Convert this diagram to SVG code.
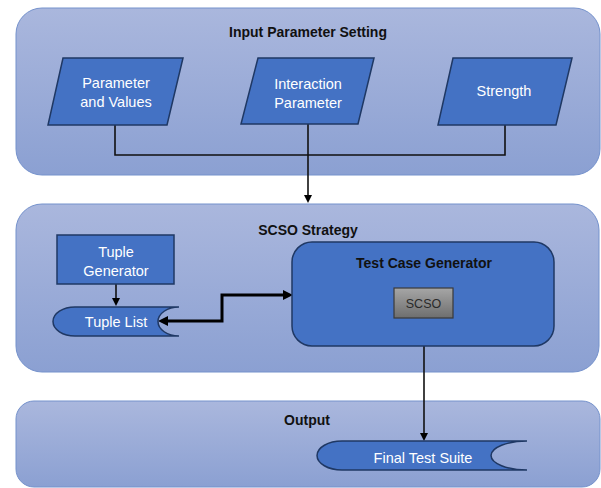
<svg xmlns="http://www.w3.org/2000/svg" width="601" height="488" viewBox="0 0 601 488">
<defs>
<linearGradient id="pg" x1="0" y1="0" x2="0" y2="1">
<stop offset="0" stop-color="#AAB7DD"/>
<stop offset="1" stop-color="#8BA0D2"/>
</linearGradient>
<linearGradient id="gg" x1="0" y1="0" x2="0" y2="1">
<stop offset="0" stop-color="#A6A6A6"/>
<stop offset="1" stop-color="#6E6E6E"/>
</linearGradient>
<marker id="ah" viewBox="0 0 8 8" refX="0" refY="4" markerWidth="8" markerHeight="8" markerUnits="userSpaceOnUse" orient="auto">
<path d="M0,0 L8,4 L0,8 z" fill="#000"/>
</marker>
<marker id="ahb" viewBox="0 0 10 10" refX="0" refY="5" markerWidth="10" markerHeight="10" markerUnits="userSpaceOnUse" orient="auto-start-reverse">
<path d="M0,0 L10,5 L0,10 z" fill="#000"/>
</marker>
</defs>
<style>
.panel{fill:url(#pg);stroke:#7592CC;stroke-width:1}
.node{fill:#4472C4;stroke:#1F3864;stroke-width:1.5}
.t{font-family:"Liberation Sans",Arial,sans-serif;font-size:14.5px;fill:#fff;text-anchor:middle}
.h{font-family:"Liberation Sans",Arial,sans-serif;font-size:14px;font-weight:bold;fill:#111;text-anchor:middle}
.ln{fill:none;stroke:#111;stroke-width:1.6}
.lb{fill:none;stroke:#000;stroke-width:3}
</style>

<g id="panel-input">
<rect class="panel" x="16" y="8" width="584" height="167" rx="26"/>
<text class="h" x="308" y="37">Input Parameter Setting</text>
</g>
<g id="panel-scso">
<rect class="panel" x="16" y="204" width="583" height="168" rx="26"/>
<text class="h" x="308" y="235">SCSO Strategy</text>
</g>
<g id="panel-output">
<rect class="panel" x="16" y="401" width="584" height="86" rx="18"/>
<text class="h" x="307" y="425">Output</text>
</g>

<g id="connectors">
<path class="ln" d="M115,125 V155 H505 V125"/>
<path class="ln" d="M308,124 V195" marker-end="url(#ah)"/>
<path class="ln" d="M116,284 V298" marker-end="url(#ah)"/>
<path class="lb" d="M168,321 H222 V295 H283" marker-start="url(#ahb)" marker-end="url(#ahb)"/>
<path class="ln" d="M424,346 V433" marker-end="url(#ah)"/>
</g>

<g id="param-values">
<polygon class="node" points="63,58 183,58 167,125 48,125"/>
<text class="t" x="116" y="88">Parameter</text>
<text class="t" x="116" y="107">and Values</text>
</g>
<g id="interaction-param">
<polygon class="node" points="258,58 374,58 358,124 241,124"/>
<text class="t" x="308" y="89">Interaction</text>
<text class="t" x="308" y="108">Parameter</text>
</g>
<g id="strength">
<polygon class="node" points="453,58 572,58 556,125 438,125"/>
<text class="t" x="504" y="96">Strength</text>
</g>

<g id="tuple-generator">
<rect class="node" x="57" y="235" width="117" height="49"/>
<text class="t" x="116" y="257">Tuple</text>
<text class="t" x="116" y="276">Generator</text>
</g>
<g id="tuple-list">
<path class="node" d="M75,307 H179 A21,14.5 0 0 0 179,336 H75 A22,14.5 0 0 1 75,307 Z"/>
<text class="t" x="116" y="327">Tuple List</text>
</g>

<g id="test-case-generator">
<rect class="node" x="292" y="242" width="262" height="104" rx="20"/>
<text class="h" x="424" y="268">Test Case Generator</text>
</g>
<g id="scso">
<rect x="394" y="288" width="59" height="30" fill="url(#gg)" stroke="#3A3A3A" stroke-width="1.2"/>
<text x="423.5" y="308" font-family="Liberation Sans, Arial, sans-serif" font-size="12.5" fill="#2A2A2A" text-anchor="middle">SCSO</text>
</g>

<g id="final-test-suite">
<path class="node" d="M342,441 H527 A36,14.5 0 0 0 527,470 H342 A25,14.5 0 0 1 342,441 Z"/>
<text class="t" x="423" y="463">Final Test Suite</text>
</g>
</svg>
